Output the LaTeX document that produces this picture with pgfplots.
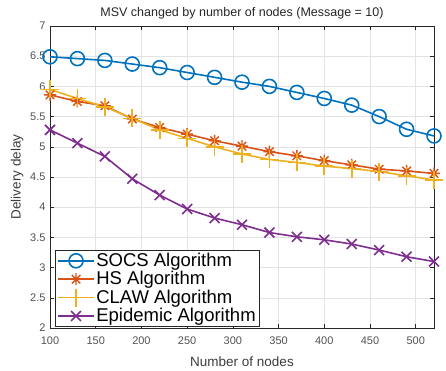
\documentclass[border=0pt]{standalone}
\usepackage{pgfplots}
\pgfplotsset{compat=1.18}
\usepackage{fontspec}
\setmainfont{Liberation Sans}
\definecolor{c1}{rgb}{0,0.447,0.741}
\definecolor{c2}{rgb}{0.85,0.325,0.098}
\definecolor{c3}{rgb}{0.929,0.694,0.125}
\definecolor{c4}{rgb}{0.494,0.184,0.556}
\definecolor{axgray}{rgb}{0.15,0.15,0.15}
\pgfdeclareplotmark{mstar}{%
 \pgfpathmoveto{\pgfqpoint{-\pgfplotmarksize}{0pt}}\pgfpathlineto{\pgfqpoint{\pgfplotmarksize}{0pt}}%
 \pgfpathmoveto{\pgfqpoint{0pt}{-\pgfplotmarksize}}\pgfpathlineto{\pgfqpoint{0pt}{\pgfplotmarksize}}%
 \pgfpathmoveto{\pgfqpoint{-0.707\pgfplotmarksize}{-0.707\pgfplotmarksize}}\pgfpathlineto{\pgfqpoint{0.707\pgfplotmarksize}{0.707\pgfplotmarksize}}%
 \pgfpathmoveto{\pgfqpoint{-0.707\pgfplotmarksize}{0.707\pgfplotmarksize}}\pgfpathlineto{\pgfqpoint{0.707\pgfplotmarksize}{-0.707\pgfplotmarksize}}%
 \pgfusepathqstroke}
\begin{document}
\begin{tikzpicture}
\begin{axis}[
  scale only axis,
  width=384pt, height=302pt,
  xmin=100, xmax=520, ymin=2, ymax=7,
  xtick={100,150,...,500},
  ytick={2,2.5,...,7},
  yticklabels={2,2.5,3,3.5,4,4.5,5,5.5,6,6.5,7},
  xticklabels={100,150,200,250,300,350,400,450,500},
  grid=major,
  major grid style={gray!22, line width=0.5pt},
  axis line style={axgray, line width=0.5pt},
  tick style={axgray, line width=0.5pt},
  tick align=inside,
  major tick length=4pt,
  tick label style={font=\fontsize{11}{12}\selectfont, text=axgray!80},
  xticklabel style={yshift=-5pt},
  yticklabel style={xshift=-1pt},
  title={MSV changed by number of nodes (Message = 10)},
  title style={font=\fontsize{12.5}{14}\selectfont, text=black!85, yshift=-3pt},
  xlabel={Number of nodes},
  ylabel={Delivery delay},
  label style={font=\fontsize{13.5}{15}\selectfont, text=axgray!90},
  xlabel style={yshift=-6pt},
  ylabel style={yshift=0pt},
  legend style={at={(0.013,0.005)}, anchor=south west, draw=axgray, line width=0.5pt,
     font=\fontsize{18.5}{21}\selectfont, inner xsep=2pt, inner ysep=1pt, row sep=0pt,
     nodes={inner sep=1.5pt, text depth=0.2em}, fill=white,
     cells={anchor=west}, legend columns=1},
  legend cell align=left,
  legend image code/.code={\draw[mark repeat=2,mark phase=2,#1] plot coordinates {(0pt,0pt) (18pt,0pt) (36pt,0pt)};},
  every axis plot/.append style={line width=1.6pt},
]
\addplot[c1, mark=o, mark size=7pt, mark options={line width=1.6pt}] coordinates {
(100,6.49)(130,6.46)(160,6.43)(190,6.37)(220,6.31)(250,6.23)(280,6.15)(310,6.07)(340,6.00)(370,5.90)(400,5.80)(430,5.69)(460,5.50)(490,5.29)(520,5.18)};
\addlegendentry{SOCS Algorithm}
\addplot[c2, mark=mstar, mark size=6pt, mark options={line width=1.4pt}] coordinates {
(100,5.86)(130,5.75)(160,5.68)(190,5.46)(220,5.32)(250,5.21)(280,5.10)(310,5.01)(340,4.92)(370,4.85)(400,4.77)(430,4.70)(460,4.63)(490,4.60)(520,4.56)};
\addlegendentry{HS Algorithm}
\addplot[c3, mark=+, mark size=9pt, mark options={line width=1.6pt}] coordinates {
(100,5.95)(130,5.80)(160,5.66)(190,5.47)(220,5.28)(250,5.14)(280,5.00)(310,4.88)(340,4.79)(370,4.74)(400,4.68)(430,4.64)(460,4.59)(490,4.52)(520,4.45)};
\addlegendentry{CLAW Algorithm}
\addplot[c4, mark=x, mark size=7pt, mark options={line width=1.6pt}] coordinates {
(100,5.28)(130,5.06)(160,4.84)(190,4.47)(220,4.20)(250,3.97)(280,3.82)(310,3.71)(340,3.58)(370,3.51)(400,3.46)(430,3.39)(460,3.29)(490,3.18)(520,3.10)};
\addlegendentry{Epidemic Algorithm}
\end{axis}
\path ([xshift=-50pt,yshift=-38pt]current axis.south west) rectangle ([xshift=12pt,yshift=26pt]current axis.north east);
\end{tikzpicture}
\end{document}
